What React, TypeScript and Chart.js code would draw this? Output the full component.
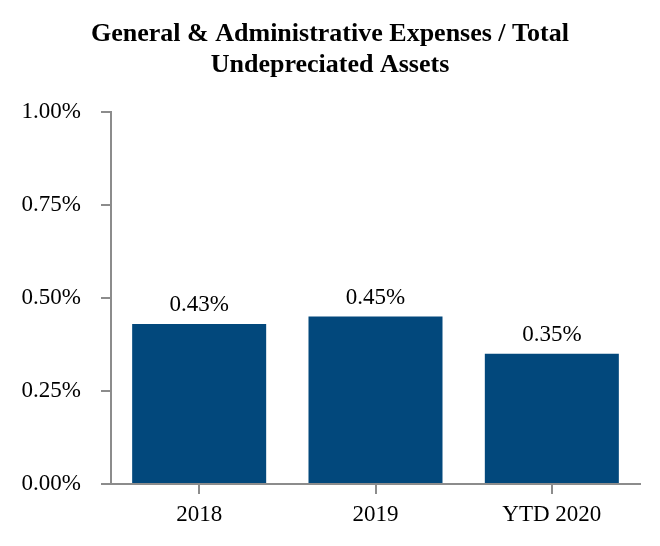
import React, { useEffect, useRef } from "react";
import { Chart, registerables } from "chart.js";

Chart.register(...registerables);

const titleLines = ["General & Administrative Expenses / Total", "Undepreciated Assets"];
const categories = ["2018", "2019", "YTD 2020"];
const values = [0.43, 0.45, 0.35];
const yTicks = [0, 0.25, 0.5, 0.75, 1.0];

const FONT = "'Liberation Serif', 'Times New Roman', serif";
const BAR = "#02487c";
const AXIS = "#8c8c8c";

const titlePlugin = {
  id: "twoLineTitle",
  afterDraw(chart: any) {
    const ctx = chart.ctx;
    ctx.save();
    ctx.font = `bold 26px ${FONT}`;
    ctx.fillStyle = "#000";
    ctx.textAlign = "center";
    ctx.textBaseline = "alphabetic";
    const cx = chart.width / 2;
    titleLines.forEach((line, i) => {
      ctx.fillText(line, cx, 33 + i * 31);
    });
    ctx.restore();
  },
};

const labelPlugin = {
  id: "barLabels",
  afterDatasetsDraw(chart: any) {
    const ctx = chart.ctx;
    const meta = chart.getDatasetMeta(0);
    ctx.save();
    ctx.font = `23px ${FONT}`;
    ctx.fillStyle = "#000";
    ctx.textAlign = "center";
    ctx.textBaseline = "alphabetic";
    meta.data.forEach((el: any, i: number) => {
      ctx.fillText(values[i].toFixed(2) + "%", el.x, el.y - 13);
    });
    ctx.restore();
  },
};

export default function App() {
  const ref = useRef<HTMLCanvasElement>(null);
  useEffect(() => {
    if (!ref.current) return;
    const chart = new Chart(ref.current, {
      type: "bar",
      data: {
        labels: categories,
        datasets: [
          {
            data: values,
            backgroundColor: BAR,
            borderWidth: 0,
            barPercentage: 0.76,
            categoryPercentage: 1,
          },
        ],
      },
      options: {
        animation: false,
        responsive: true,
        maintainAspectRatio: false,
        layout: { padding: { left: 0, right: 12, top: 104, bottom: 0 } },
        plugins: {
          legend: { display: false },
          tooltip: { enabled: false },
          title: { display: false },
        },
        scales: {
          x: {
            offset: true,
            grid: {
              offset: false,
              drawOnChartArea: false,
              drawTicks: true,
              tickLength: 10,
              color: AXIS,
              lineWidth: 2,
            },
            border: { display: true, color: AXIS, width: 2 },
            ticks: { color: "#000", font: { family: FONT, size: 23 }, padding: 7, maxRotation: 0 },
            afterFit: (s: any) => {
              s.height = 54;
            },
          },
          y: {
            min: 0,
            max: 1,
            afterBuildTicks: (s: any) => {
              s.ticks = yTicks.map((v) => ({ value: v }));
            },
            grid: {
              drawOnChartArea: false,
              drawTicks: true,
              tickLength: 10,
              color: AXIS,
              lineWidth: 2,
            },
            border: { display: true, color: AXIS, width: 2 },
            ticks: {
              color: "#000",
              font: { family: FONT, size: 23 },
              padding: 20,
              callback: (v: any) => Number(v).toFixed(2) + "%",
            },
            afterFit: (s: any) => {
              s.width = 103;
            },
          },
        },
      },
      plugins: [labelPlugin, titlePlugin],
    });
    return () => chart.destroy();
  }, []);
  return (
    <div style={{ position: "relative", width: 644, height: 530 }}>
      <canvas ref={ref} />
    </div>
  );
}
